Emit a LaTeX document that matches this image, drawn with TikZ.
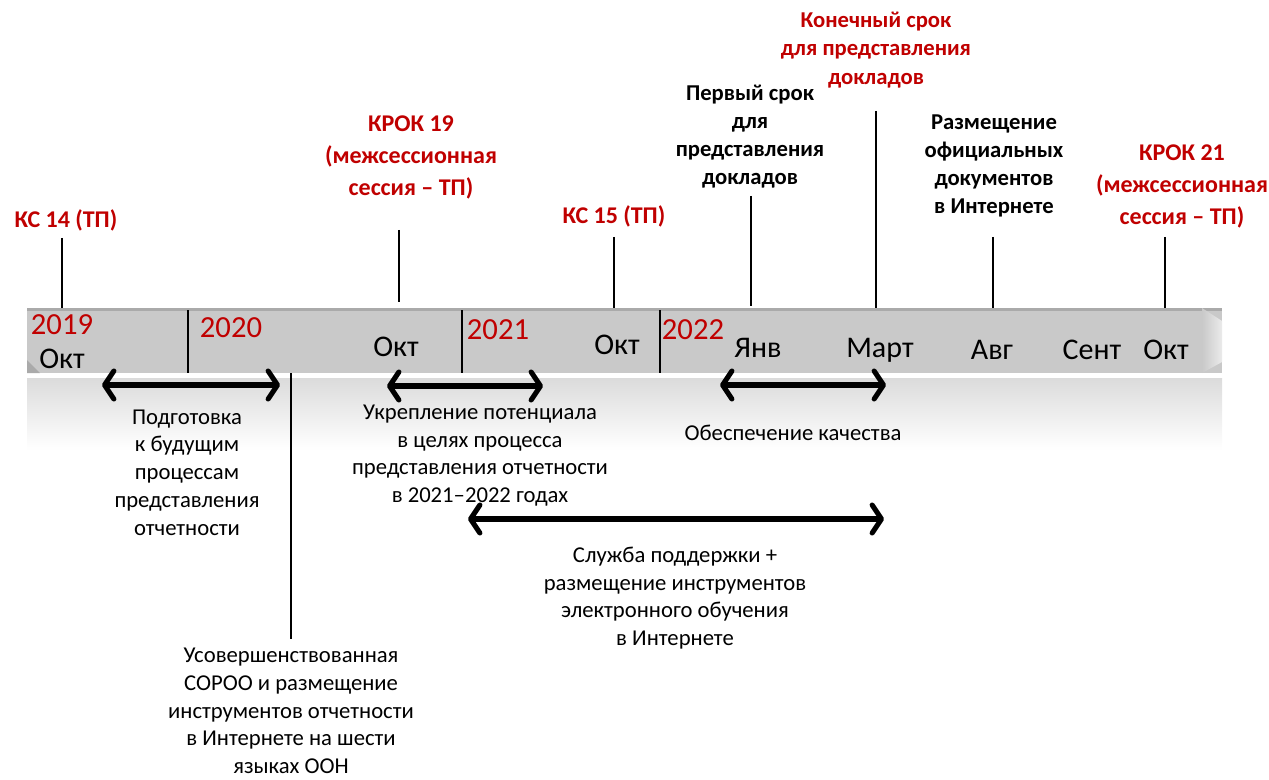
\documentclass[tikz,border=0pt]{standalone}
\usepackage{fontspec}
\setmainfont{Carlito}
\usetikzlibrary{arrows.meta,positioning}
\definecolor{myred}{RGB}{192,0,0}
\definecolor{mybar}{RGB}{201,201,201}
\definecolor{mybardark}{RGB}{170,170,170}

\begin{document}
\begin{tikzpicture}[x=0.75pt,y=-0.75pt,
  redlbl/.style={text=myred,font=\bfseries\fontsize{18}{24}\selectfont,align=center,inner sep=0pt},
  blklbl/.style={font=\bfseries\fontsize{17}{21}\selectfont,align=center,inner sep=0pt},
  note/.style={font=\fontsize{17}{20.8}\selectfont,align=center,inner sep=0pt},
  mon/.style={font=\fontsize{22.5}{24}\selectfont,inner sep=0pt},
  yr/.style={font=\fontsize{23}{24}\selectfont,inner sep=0pt,text=myred},
  tickline/.style={line width=1.5pt},
  divline/.style={line width=0.8pt},
  span/.style={line width=3.8pt,line cap=round,
    >={Straight Barb[length=7pt,width=21pt,line cap=round,line join=round]},<->}]

  \useasboundingbox (0,0) rectangle (1269,780);

  % reflection under the bar
  \shade[top color=black!14,bottom color=white] (27,378) rectangle (1222,450);

  % the bar
  \node[fill=mybar,minimum width=896.25pt,minimum height=48.75pt,inner sep=0pt] (bar) at (624.5,340.5) {};
  \fill[mybardark] (27,308) rectangle (1222,311);
  \shade[left color=mybar,right color=black!8] (1202,308) -- (1222,321) -- (1222,362) -- (1202,373) -- cycle;
  \fill[mybardark] (27,360) -- (40,373) -- (27,373) -- cycle;
  \draw[divline] (188,310) -- (188,373);
  \draw[divline] (462,310) -- (462,373);
  \draw[divline] (660,310) -- (660,373);

  % years and months
  \node[yr] (y2019) at (62,325) {2019};
  \node[yr] (y2020) at (231,328) {2020};
  \node[yr] (y2021) at (498,330) {2021};
  \node[yr] (y2022) at (693,330) {2022};
  \node[mon] (okt19) at (62,359) {Окт};
  \node[mon] (okt20) at (396,347) {Окт};
  \node[mon] (okt21) at (617,345) {Окт};
  \node[mon] (jan22) at (758,348) {Янв};
  \node[mon] (mar22) at (880,350) {Март};
  \node[mon] (avg22) at (992,350) {Авг};
  \node[mon] (sep22) at (1092,350) {Сент};
  \node[mon] (okt22) at (1166,350) {Окт};

  % events above the bar
  \node[redlbl] (ks14) at (66,220) {КС 14 (ТП)};
  \node[redlbl] (krok19) at (411,157) {КРОК 19\\(межсессионная\\сессия – ТП)};
  \node[redlbl] (ks15) at (614,216) {КС 15 (ТП)};
  \node[blklbl] (first) at (750,137) {Первый срок\\для\\представления\\докладов};
  \node[blklbl,text=myred,font=\bfseries\fontsize{17}{21.4}\selectfont] (final) at (876,50) {Конечный срок\\для представления\\докладов};
  \node[blklbl] (docs) at (994,165.5) {Размещение\\официальных\\документов\\в Интернете};
  \node[redlbl] (krok21) at (1182,186.5) {КРОК 21\\(межсессионная\\сессия – ТП)};

  \coordinate (ks14-top) at (62,238);
  \coordinate (krok19-top) at (399,230);
  \coordinate (ks15-top) at (614,237);
  \coordinate (first-top) at (751,196);
  \coordinate (final-top) at (876,111);
  \coordinate (docs-top) at (993,237);
  \coordinate (krok21-top) at (1165,237);

  \draw[tickline] (ks14-top) -- (ks14-top |- bar.north);
  \draw[tickline] (krok19-top) -- ([yshift=4.5pt]krok19-top |- bar.north);
  \draw[tickline] (ks15-top) -- (ks15-top |- bar.north);
  \draw[tickline] (first-top) -- ([yshift=1.5pt]first-top |- bar.north);
  \draw[tickline] (final-top) -- (final-top |- bar.north);
  \draw[tickline] (docs-top) -- (docs-top |- bar.north);
  \draw[tickline] (krok21-top) -- (krok21-top |- bar.north);

  % spans below the bar
  \node[note] (prep) at (187,472.5) {Подготовка\\к будущим\\процессам\\представления\\отчетности};
  \node[note] (build) at (480,455.5) {Укрепление потенциала\\в целях процесса\\представления отчетности\\в 2021–2022 годах};
  \node[note] (qa) at (793,433) {Обеспечение качества};
  \node[note] (help) at (675,598) {Служба поддержки +\\размещение инструментов\\электронного обучения\\в Интернете};
  \node[note] (soroo) at (291,711) {Усовершенствованная\\СОРОО и размещение\\инструментов отчетности\\в Интернете на шести\\языках ООН};

  \coordinate (prep-l) at (102,385);
  \coordinate (prep-r) at (280,385);
  \coordinate (build-l) at (387,386);
  \coordinate (build-r) at (543,386);
  \coordinate (qa-l) at (720,385);
  \coordinate (qa-r) at (886,385);
  \coordinate (help-l) at (468,519);
  \coordinate (help-r) at (884,519);

  \draw[span] (prep-l) -- (prep-r);
  \draw[span] (build-l) -- (build-r);
  \draw[span] (qa-l) -- (qa-r);
  \draw[span] (help-l) -- (help-r);

  \coordinate (soroo-top) at (291,639);
  \draw[tickline] (soroo-top |- bar.south) -- (soroo-top);

\end{tikzpicture}
\end{document}
